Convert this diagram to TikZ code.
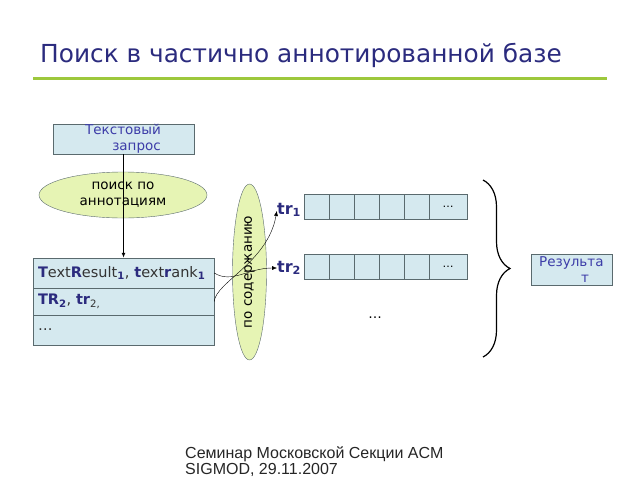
\documentclass[tikz,border=0pt]{standalone}
\usepackage{fontspec}
\setmainfont{DejaVu Sans}
\newfontfamily\footfont{Liberation Sans}
\usetikzlibrary{arrows.meta,positioning,shapes.geometric,decorations.pathreplacing}
\definecolor{titleblue}{HTML}{2B2B7E}
\definecolor{textblue}{HTML}{3C3CA8}
\definecolor{boxfill}{HTML}{D5E9EF}
\definecolor{ovalfill}{HTML}{E6F4B4}
\definecolor{rulegreen}{HTML}{9DC83C}
\definecolor{edgegray}{HTML}{5A6A6E}
\newcommand{\hb}[1]{{\bfseries\color{titleblue}#1}}

\begin{document}
\begin{tikzpicture}[x=1pt,y=-1pt,>={Latex[length=5pt,width=4pt]},
    box/.style={draw=edgegray,fill=boxfill,inner sep=0pt},
    cell/.style={box,minimum width=25pt,minimum height=25pt},
    rowbox/.style={box,font=\fontsize{14.5}{16}\selectfont,minimum width=181pt,text width=171pt,align=left,text=black!80},
    oval/.style={draw=edgegray,fill=ovalfill,ellipse,inner sep=0pt},
    txt/.style={font=\fontsize{13.5}{16}\selectfont,inner sep=0pt},
    lbl/.style={font=\fontsize{16}{18}\selectfont,inner sep=0pt,anchor=west}]
    \useasboundingbox (0,0) rectangle (640,480);
    \node[anchor=base west,inner sep=0pt,text=titleblue,font=\fontsize{24.8}{28}\selectfont] (title) at (40,62) {Поиск в частично аннотированной базе};
    \draw[rulegreen,line width=3pt] (33,78) -- (607,78);

    \node[box,minimum width=141pt,minimum height=30pt] (query) at (123.5,139) {};
    \node[txt,text=textblue,align=right,anchor=east] (qtext) at (161,139) {Текстовый\\запрос};
    \node[oval,txt,align=center,minimum width=168pt,minimum height=46pt] (annot) at (123,195) {поиск по\\аннотациям};

    \node[rowbox,minimum height=30pt] (row1) at (123.5,273) {\hb{T}ext\hb{R}esult\textsubscript{\hb{1}}, \hb{t}ext\hb{r}ank\textsubscript{\hb{1}}};
    \node[rowbox,minimum height=27pt] (row2) at (123.5,301.5) {\hb{TR\textsubscript{2}}, \hb{tr}\textsubscript{2,}};
    \node[rowbox,minimum height=30pt] (row3) at (123.5,330) {…};

    \node[oval,txt,rotate=90,minimum width=176pt,minimum height=34pt] (content) at (249.5,272) {по содержанию};

    \draw[->,line width=1pt] (query.south) -- (row1.north);

    \node[lbl] (tr1) at (277,210) {\hb{tr\textsubscript{1}}};
    \node[lbl] (tr2) at (277,268) {\hb{tr\textsubscript{2}}};
    \draw[->,thin] (row1.east) .. controls (232,284) and (248,268) .. (tr2.west);
    \draw[->,thin,shorten >=1pt] (row2.east) .. controls (216,282) and (268,262) .. (tr1.west);

    \foreach \i in {0,...,4} {
      \node[cell] (a\i) at (316.5+25*\i,206.5) {};
      \node[cell] (b\i) at (316.5+25*\i,266.5) {};
    }
    \node[cell,minimum width=38pt,font=\fontsize{11}{12}\selectfont] (a5) at (448,206.5) {…};
    \node[cell,minimum width=38pt,font=\fontsize{11}{12}\selectfont] (b5) at (448,266.5) {…};
    \node[txt] (more) at (375,318) {…};

    \draw[line width=1.2pt,decorate,decoration={brace,amplitude=27pt}] (483,180) -- (483,357);

    \node[box,minimum width=81pt,minimum height=31pt] (result) at (571.5,269.5) {};
    \node[txt,text=textblue,align=left,anchor=west] (rtext) at (539,270) {Результа\\\hspace{42pt}т};

    \node[anchor=north west,inner sep=0pt,align=left,font=\footfont\fontsize{16}{16.5}\selectfont,text=black!85] (foot) at (185,446) {Семинар Московской Секции ACM\\SIGMOD, 29.11.2007};
\end{tikzpicture}
\end{document}
